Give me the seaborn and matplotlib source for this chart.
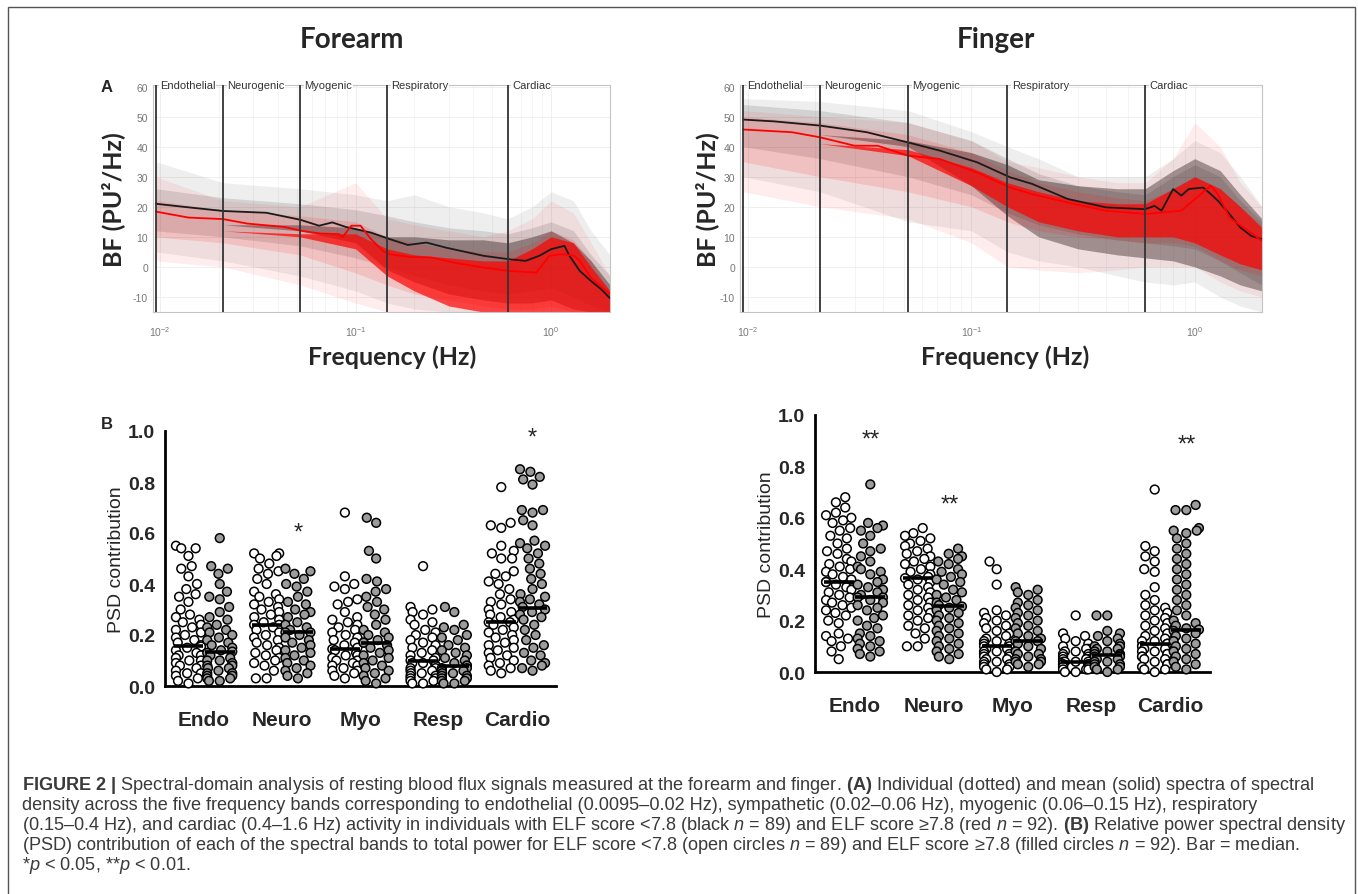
import warnings
import numpy as np
import pandas as pd
import matplotlib
matplotlib.use("Agg")
import matplotlib.pyplot as plt
import seaborn as sns
from matplotlib.patches import Rectangle

warnings.filterwarnings("ignore")

W, H = 1358, 895

# ---------------- Panel A: spectra ----------------
band_edges = [0.0095, 0.021, 0.052, 0.145, 0.6]
band_names = ["Endothelial", "Neurogenic", "Myogenic", "Respiratory", "Cardiac"]

# mean spectra
fa_blk_f = [0.0095, 0.014, 0.021, 0.035, 0.052, 0.065, 0.076, 0.089, 0.12, 0.15, 0.185, 0.23,
            0.29, 0.45, 0.6, 0.74, 0.87, 1.0, 1.17, 1.24, 1.4, 1.6, 1.8, 2.0]
fa_blk_y = [21.0, 19.8, 18.6, 18.0, 15.7, 13.7, 14.8, 13.3, 11.4, 9.2, 7.3, 8.1,
            6.4, 3.7, 2.6, 2.0, 3.7, 5.9, 7.0, 3.7, -1.3, -4.7, -7.4, -10.4]
fa_red_f = [0.0095, 0.014, 0.021, 0.028, 0.043, 0.053, 0.066, 0.082, 0.086, 0.095, 0.106, 0.12,
            0.138, 0.15, 0.19, 0.245, 0.32, 0.45, 0.6, 0.84, 0.98, 1.13, 1.31, 1.4, 1.6, 2.0]
fa_red_y = [18.4, 16.4, 15.9, 14.4, 13.3, 12.0, 11.1, 10.9, 10.0, 13.7, 13.7, 9.2,
            5.3, 4.2, 3.3, 3.1, 1.4, -0.2, -1.3, -1.9, 3.7, 4.2, 3.7, 2.0, -3.6, -9.1]

fi_blk_f = [0.0095, 0.0131, 0.021, 0.034, 0.052, 0.072, 0.106, 0.149, 0.187, 0.27, 0.4, 0.6,
            0.66, 0.71, 0.8, 0.87, 0.94, 1.09, 1.18, 1.27, 1.43, 1.6, 1.79, 2.0]
fi_blk_y = [49.0, 48.4, 47.0, 44.8, 41.4, 38.7, 34.8, 29.8, 27.6, 22.6, 19.8, 19.2,
            20.3, 18.7, 25.9, 23.7, 25.9, 26.4, 24.2, 22.0, 17.6, 13.1, 10.3, 9.2]
fi_red_f = [0.0095, 0.0157, 0.021, 0.03, 0.038, 0.052, 0.072, 0.106, 0.149, 0.187, 0.27, 0.4,
            0.6, 0.87, 1.18, 1.27, 1.43, 2.0]
fi_red_y = [45.7, 44.8, 43.1, 40.3, 40.3, 37.0, 35.9, 31.4, 26.4, 24.2, 21.4, 18.7,
            17.6, 18.7, 27.0, 24.2, 16.4, 8.7]

# spread of the individual spectra: outer, inner and dense envelopes
env_f = [0.0095, 0.021, 0.052, 0.1, 0.145, 0.2, 0.3, 0.45, 0.6, 0.8, 1.0, 1.3, 1.6, 2.0]
fa_blk_out_lo = [5, 2, -3, -8, -12, -14, -15, -15, -15, -15, -15, -15, -15, -15]
fa_blk_out_hi = [35, 28, 26, 24, 22, 24, 20, 18, 16, 20, 25, 22, 12, 4]
fa_blk_in_lo = [12, 10, 7, 3, 0, -3, -6, -8, -9, -8, -7, -10, -13, -15]
fa_blk_in_hi = [26, 23, 21, 19, 17, 15, 13, 12, 11, 13, 15, 12, 4, -3]
fa_blk_dn_lo = [15, 14, 12, 8, -1, -5, -9, -11, -12, -12, -11, -14, -15, -15]
fa_blk_dn_hi = [15, 14, 14, 13, 10, 10, 9, 9, 8, 10, 12, 8, 2, -6]
fa_red_out_lo = [2, 0, -6, -12, -15, -15, -15, -15, -15, -15, -15, -15, -15, -15]
fa_red_out_hi = [30, 22, 20, 28, 16, 14, 12, 10, 12, 16, 22, 18, 8, -3]
fa_red_in_lo = [10, 8, 4, -2, -6, -9, -11, -13, -14, -14, -13, -15, -15, -15]
fa_red_in_hi = [22, 19, 17, 15, 10, 8, 6, 5, 5, 8, 12, 9, 2, -8]
fa_red_dn_lo = [13, 12, 10, 6, -3, -8, -13, -15, -15, -15, -15, -15, -15, -15]
fa_red_dn_hi = [13, 12, 11, 11, 6, 4, 3, 2, 2, 6, 10, 8, 0, -8]

fi_blk_out_lo = [30, 25, 15, 12, 5, 2, 0, -3, -5, -6, -5, -10, -13, -15]
fi_blk_out_hi = [56, 55, 52, 45, 40, 36, 30, 30, 30, 36, 42, 38, 30, 20]
fi_blk_in_lo = [40, 36, 30, 24, 18, 14, 11, 9, 8, 7, 6, 2, -2, -6]
fi_blk_in_hi = [54, 52, 48, 42, 36, 31, 27, 25, 24, 30, 34, 30, 22, 15]
fi_blk_dn_lo = [47, 44, 40, 27, 17, 10, 6, 4, 3, 2, 0, -3, -6, -8]
fi_blk_dn_hi = [47, 44, 42, 38, 34, 29, 27, 26, 26, 32, 36, 32, 24, 16]
fi_red_out_lo = [25, 20, 16, 8, 0, -1, -2, -1, 0, 0, 0, -5, -8, -10]
fi_red_out_hi = [52, 50, 48, 42, 35, 33, 30, 28, 28, 36, 48, 40, 28, 20]
fi_red_in_lo = [35, 30, 25, 20, 15, 12, 10, 9, 8, 8, 7, 2, -1, -3]
fi_red_in_hi = [50, 48, 44, 38, 32, 28, 25, 23, 22, 26, 30, 26, 20, 14]
fi_red_dn_lo = [44, 41, 37, 27, 20, 15, 12, 10, 10, 10, 8, 4, 1, -1]
fi_red_dn_hi = [44, 41, 39, 33, 28, 25, 22, 21, 21, 26, 30, 26, 20, 13]

# ---------------- Panel B: PSD contribution ----------------
bands = ["Endo", "Neuro", "Myo", "Resp", "Cardio"]

fa_open = [
    [0.55, 0.54, 0.54, 0.51, 0.47, 0.46, 0.43, 0.40, 0.38, 0.36, 0.35, 0.33, 0.30, 0.28, 0.27, 0.26,
     0.25, 0.24, 0.23, 0.22, 0.21, 0.20, 0.19, 0.18, 0.17, 0.16, 0.155, 0.15, 0.14, 0.13, 0.12, 0.12,
     0.11, 0.10, 0.10, 0.09, 0.08, 0.08, 0.07, 0.06, 0.05, 0.05, 0.04, 0.03, 0.02, 0.01],
    [0.52, 0.52, 0.51, 0.50, 0.48, 0.46, 0.45, 0.44, 0.42, 0.40, 0.37, 0.36, 0.35, 0.34, 0.33, 0.32,
     0.31, 0.30, 0.29, 0.28, 0.27, 0.26, 0.25, 0.24, 0.24, 0.23, 0.22, 0.21, 0.20, 0.19, 0.18, 0.17,
     0.16, 0.15, 0.14, 0.13, 0.12, 0.11, 0.10, 0.09, 0.08, 0.06, 0.03, 0.03],
    [0.68, 0.43, 0.40, 0.39, 0.38, 0.34, 0.33, 0.32, 0.29, 0.27, 0.26, 0.25, 0.24, 0.23, 0.22, 0.21,
     0.20, 0.19, 0.18, 0.17, 0.16, 0.15, 0.145, 0.14, 0.13, 0.12, 0.12, 0.11, 0.10, 0.10, 0.09, 0.08,
     0.08, 0.07, 0.06, 0.06, 0.05, 0.04, 0.03],
    [0.47, 0.31, 0.30, 0.29, 0.28, 0.26, 0.25, 0.24, 0.22, 0.21, 0.20, 0.19, 0.18, 0.17, 0.16, 0.15,
     0.14, 0.13, 0.12, 0.11, 0.10, 0.10, 0.09, 0.09, 0.08, 0.08, 0.07, 0.07, 0.06, 0.06, 0.05, 0.05,
     0.04, 0.04, 0.03, 0.03, 0.02, 0.02, 0.01, 0.01],
    [0.78, 0.64, 0.63, 0.62, 0.55, 0.53, 0.52, 0.50, 0.50, 0.45, 0.44, 0.43, 0.41, 0.40, 0.38, 0.36,
     0.34, 0.33, 0.32, 0.30, 0.29, 0.28, 0.27, 0.26, 0.25, 0.25, 0.24, 0.23, 0.22, 0.21, 0.20, 0.19,
     0.18, 0.17, 0.16, 0.15, 0.14, 0.13, 0.12, 0.11, 0.10, 0.09, 0.08, 0.07, 0.06, 0.05],
]
fa_fill = [
    [0.58, 0.47, 0.46, 0.44, 0.40, 0.37, 0.35, 0.34, 0.31, 0.29, 0.27, 0.26, 0.24, 0.23, 0.22, 0.21,
     0.20, 0.19, 0.18, 0.17, 0.16, 0.15, 0.14, 0.135, 0.13, 0.12, 0.11, 0.10, 0.10, 0.09, 0.08, 0.08,
     0.07, 0.07, 0.06, 0.05, 0.05, 0.04, 0.04, 0.03, 0.03, 0.02, 0.02],
    [0.46, 0.45, 0.44, 0.42, 0.40, 0.39, 0.37, 0.35, 0.33, 0.32, 0.30, 0.29, 0.28, 0.27, 0.25, 0.24,
     0.23, 0.22, 0.21, 0.21, 0.20, 0.19, 0.18, 0.17, 0.16, 0.15, 0.14, 0.13, 0.12, 0.11, 0.10, 0.09,
     0.08, 0.07, 0.06, 0.05, 0.04, 0.03],
    [0.66, 0.64, 0.53, 0.50, 0.42, 0.41, 0.38, 0.37, 0.35, 0.33, 0.31, 0.30, 0.28, 0.26, 0.24, 0.22,
     0.21, 0.20, 0.19, 0.18, 0.17, 0.17, 0.16, 0.15, 0.14, 0.13, 0.12, 0.11, 0.10, 0.09, 0.08, 0.07,
     0.06, 0.05, 0.04, 0.03, 0.02, 0.01],
    [0.31, 0.29, 0.24, 0.23, 0.22, 0.20, 0.19, 0.18, 0.16, 0.15, 0.14, 0.13, 0.12, 0.11, 0.10, 0.09,
     0.08, 0.08, 0.07, 0.07, 0.06, 0.06, 0.05, 0.05, 0.04, 0.04, 0.03, 0.03, 0.02, 0.02, 0.01, 0.01],
    [0.85, 0.84, 0.82, 0.81, 0.79, 0.69, 0.69, 0.68, 0.65, 0.63, 0.57, 0.56, 0.55, 0.54, 0.52, 0.50,
     0.48, 0.46, 0.44, 0.42, 0.40, 0.38, 0.36, 0.35, 0.34, 0.33, 0.32, 0.31, 0.30, 0.29, 0.28, 0.27,
     0.26, 0.24, 0.22, 0.20, 0.18, 0.16, 0.15, 0.13, 0.12, 0.10, 0.09, 0.08, 0.07, 0.06],
]
fi_open = [
    [0.68, 0.66, 0.64, 0.62, 0.61, 0.60, 0.59, 0.58, 0.56, 0.55, 0.53, 0.52, 0.50, 0.48, 0.47, 0.46,
     0.44, 0.43, 0.42, 0.41, 0.40, 0.39, 0.38, 0.37, 0.36, 0.35, 0.35, 0.34, 0.33, 0.32, 0.31, 0.30,
     0.29, 0.28, 0.27, 0.26, 0.25, 0.24, 0.23, 0.22, 0.20, 0.19, 0.15, 0.14, 0.13, 0.12, 0.10, 0.08, 0.05],
    [0.56, 0.54, 0.53, 0.52, 0.51, 0.50, 0.49, 0.48, 0.47, 0.46, 0.45, 0.44, 0.43, 0.42, 0.41, 0.40,
     0.39, 0.38, 0.37, 0.365, 0.36, 0.35, 0.34, 0.33, 0.32, 0.31, 0.30, 0.29, 0.28, 0.27, 0.26, 0.25,
     0.24, 0.23, 0.22, 0.21, 0.20, 0.18, 0.17, 0.15, 0.13, 0.10, 0.10],
    [0.43, 0.40, 0.34, 0.24, 0.23, 0.22, 0.21, 0.20, 0.19, 0.18, 0.17, 0.16, 0.15, 0.14, 0.13, 0.12,
     0.12, 0.11, 0.11, 0.10, 0.10, 0.09, 0.09, 0.08, 0.08, 0.07, 0.07, 0.06, 0.06, 0.05, 0.05, 0.04,
     0.04, 0.03, 0.03, 0.02, 0.02, 0.01, 0.01, 0.0],
    [0.22, 0.15, 0.14, 0.13, 0.12, 0.11, 0.10, 0.09, 0.09, 0.08, 0.08, 0.07, 0.07, 0.06, 0.06, 0.05,
     0.05, 0.05, 0.04, 0.04, 0.04, 0.04, 0.03, 0.03, 0.03, 0.03, 0.02, 0.02, 0.02, 0.02, 0.01, 0.01,
     0.01, 0.0, 0.0],
    [0.71, 0.49, 0.47, 0.45, 0.43, 0.40, 0.39, 0.33, 0.30, 0.28, 0.26, 0.25, 0.24, 0.23, 0.22, 0.21,
     0.20, 0.19, 0.18, 0.17, 0.16, 0.15, 0.14, 0.13, 0.12, 0.12, 0.11, 0.11, 0.10, 0.10, 0.09, 0.09,
     0.08, 0.08, 0.07, 0.07, 0.06, 0.06, 0.05, 0.05, 0.04, 0.03, 0.03, 0.02, 0.01, 0.01, 0.0],
]
fi_fill = [
    [0.73, 0.58, 0.57, 0.56, 0.55, 0.53, 0.50, 0.48, 0.47, 0.45, 0.43, 0.41, 0.40, 0.39, 0.38, 0.36,
     0.35, 0.34, 0.33, 0.32, 0.31, 0.30, 0.29, 0.29, 0.28, 0.27, 0.26, 0.25, 0.24, 0.22, 0.21, 0.20,
     0.18, 0.17, 0.15, 0.14, 0.13, 0.12, 0.11, 0.10, 0.09, 0.08, 0.07, 0.06],
    [0.48, 0.46, 0.45, 0.44, 0.43, 0.42, 0.40, 0.39, 0.38, 0.37, 0.36, 0.35, 0.34, 0.32, 0.31, 0.30,
     0.29, 0.28, 0.27, 0.26, 0.255, 0.25, 0.24, 0.23, 0.22, 0.21, 0.20, 0.19, 0.18, 0.17, 0.16, 0.15,
     0.14, 0.13, 0.12, 0.11, 0.10, 0.09, 0.08, 0.07, 0.06, 0.05],
    [0.33, 0.32, 0.31, 0.30, 0.28, 0.27, 0.26, 0.25, 0.24, 0.23, 0.22, 0.21, 0.20, 0.19, 0.18, 0.17,
     0.16, 0.15, 0.14, 0.13, 0.12, 0.12, 0.11, 0.10, 0.09, 0.08, 0.07, 0.07, 0.06, 0.05, 0.05, 0.04,
     0.04, 0.03, 0.03, 0.02],
    [0.22, 0.22, 0.16, 0.15, 0.14, 0.13, 0.12, 0.11, 0.10, 0.10, 0.09, 0.09, 0.08, 0.08, 0.07, 0.07,
     0.065, 0.06, 0.06, 0.05, 0.05, 0.04, 0.04, 0.03, 0.03, 0.02, 0.02, 0.01, 0.01, 0.0],
    [0.65, 0.63, 0.63, 0.56, 0.55, 0.55, 0.54, 0.52, 0.50, 0.48, 0.46, 0.44, 0.42, 0.40, 0.38, 0.36,
     0.34, 0.32, 0.30, 0.28, 0.26, 0.24, 0.22, 0.20, 0.19, 0.18, 0.17, 0.165, 0.16, 0.15, 0.14, 0.13,
     0.12, 0.11, 0.10, 0.09, 0.08, 0.07, 0.06, 0.05, 0.04, 0.03, 0.02, 0.01],
]

# medians (bars) and significance marks
fa_med_open = [0.155, 0.24, 0.145, 0.10, 0.25]
fa_med_fill = [0.135, 0.21, 0.17, 0.08, 0.305]
fi_med_open = [0.35, 0.365, 0.10, 0.04, 0.11]
fi_med_fill = [0.29, 0.255, 0.12, 0.065, 0.165]
fa_stars = ["", "*", "", "", "*"]
fa_star_y = [0, 0.60, 0, 0, 0.975]
fi_stars = ["**", "**", "", "", "**"]
fi_star_y = [0.905, 0.65, 0, 0, 0.885]

caption_lines = [
    r"$\mathbf{FIGURE\ 2\ |}$ Spectral-domain analysis of resting blood flux signals measured at the forearm and finger. "
    r"$\mathbf{(A)}$ Individual (dotted) and mean (solid) spectra of spectral",
    "density across the five frequency bands corresponding to endothelial (0.0095–0.02 Hz), sympathetic "
    "(0.02–0.06 Hz), myogenic (0.06–0.15 Hz), respiratory",
    r"(0.15–0.4 Hz), and cardiac (0.4–1.6 Hz) activity in individuals with ELF score <7.8 (black $\mathit{n}$ = 89) "
    r"and ELF score ≥7.8 (red $\mathit{n}$ = 92). $\mathbf{(B)}$ Relative power spectral density",
    r"(PSD) contribution of each of the spectral bands to total power for ELF score <7.8 (open circles $\mathit{n}$ = 89) "
    r"and ELF score ≥7.8 (filled circles $\mathit{n}$ = 92). Bar = median.",
    r"*$\mathit{p}$ < 0.05, **$\mathit{p}$ < 0.01.",
]

# ---------------- drawing ----------------
sns.set_style("white")
plt.rcParams["font.family"] = ["Liberation Sans", "DejaVu Sans"]
plt.rcParams["mathtext.fontset"] = "custom"
plt.rcParams["mathtext.rm"] = "Liberation Sans"
plt.rcParams["mathtext.it"] = "Liberation Sans:italic"
plt.rcParams["mathtext.bf"] = "Liberation Sans:bold"

fig = plt.figure(figsize=(W / 100, H / 100), dpi=100)


def px_axes(left, top, right, bottom):
    return fig.add_axes([left / W, 1 - bottom / H, (right - left) / W, (bottom - top) / H])


def px_text(x, y, s, **kw):
    fig.text(x / W, 1 - y / H, s, **kw)


BLACK = "#1a1a1a"
RED = "#ff0000"


def draw_spectra(ax, blk, red):
    for col, env, a_dn in [(BLACK, blk, 0.40), (RED, red, 0.70)]:
        out_lo, out_hi, in_lo, in_hi, dn_lo, dn_hi = env[2:]
        ax.fill_between(env_f, out_lo, out_hi, color=col, alpha=0.07, lw=0)
        ax.fill_between(env_f, in_lo, in_hi, color=col, alpha=0.13, lw=0)
        ax.fill_between(env_f, dn_lo, dn_hi, color=col, alpha=a_dn, lw=0)
    ax.plot(blk[0], blk[1], color=BLACK, lw=1.3, zorder=5)
    ax.plot(red[0], red[1], color=RED, lw=1.3, zorder=5)
    ax.set_xscale("log")
    ax.set_xlim(0.0092, 2.0)
    ax.set_ylim(-15, 60.5)
    for e in band_edges:
        ax.axvline(e, color="#333333", lw=1.3, zorder=6)
    for e, name in zip(band_edges, band_names):
        ax.annotate(name, (e, 60.5), xytext=(3, 0), textcoords="offset points",
                    fontsize=8, color="#333333", va="center", ha="left", zorder=7,
                    bbox=dict(fc="white", ec="none", pad=0.3))
    ax.set_yticks(range(-10, 61, 10))
    ax.set_yticklabels([str(v) for v in range(-10, 61, 10)])
    ax.set_xticks([0.01, 0.1, 1])
    ax.set_xticklabels([r"$10^{-2}$", r"$10^{-1}$", r"$10^{0}$"])
    ax.tick_params(axis="both", which="both", direction="in", colors="#777777",
                   labelsize=7.5, length=3, width=0.6)
    ax.tick_params(axis="x", pad=9)
    ax.grid(True, which="major", color="#ececec", lw=0.6)
    ax.grid(True, which="minor", axis="x", color="#f0f0f0", lw=0.5)
    for s in ax.spines.values():
        s.set_color("#c4c4c4")
        s.set_linewidth(0.8)


def env_pack(f, y, out_lo, out_hi, in_lo, in_hi, dn_lo, dn_hi):
    return [f, y, out_lo, out_hi, in_lo, in_hi, dn_lo, dn_hi]


axA1 = px_axes(153, 86, 610, 313)
draw_spectra(axA1,
             env_pack(fa_blk_f, fa_blk_y, fa_blk_out_lo, fa_blk_out_hi, fa_blk_in_lo, fa_blk_in_hi,
                      fa_blk_dn_lo, fa_blk_dn_hi),
             env_pack(fa_red_f, fa_red_y, fa_red_out_lo, fa_red_out_hi, fa_red_in_lo, fa_red_in_hi,
                      fa_red_dn_lo, fa_red_dn_hi))
axA2 = px_axes(740, 86, 1262, 313)
draw_spectra(axA2,
             env_pack(fi_blk_f, fi_blk_y, fi_blk_out_lo, fi_blk_out_hi, fi_blk_in_lo, fi_blk_in_hi,
                      fi_blk_dn_lo, fi_blk_dn_hi),
             env_pack(fi_red_f, fi_red_y, fi_red_out_lo, fi_red_out_hi, fi_red_in_lo, fi_red_in_hi,
                      fi_red_dn_lo, fi_red_dn_hi))

lab_font = ["Lato", "DejaVu Sans"]
px_text(352, 40, "Forearm", fontsize=20, fontweight="bold", family=lab_font, ha="center", va="center")
px_text(996, 40, "Finger", fontsize=20, fontweight="bold", family=lab_font, ha="center", va="center")
for x in [113, 707]:
    px_text(x, 200, "BF (PU²/Hz)", fontsize=18, fontweight="bold", family=lab_font,
            rotation=90, ha="center", va="center")
for x in [392, 1005]:
    px_text(x, 357, "Frequency (Hz)", fontsize=18, fontweight="bold", family=lab_font,
            ha="center", va="center")
px_text(107, 88, "A", fontsize=12, fontweight="bold", ha="center", va="center")
px_text(107, 425, "B", fontsize=12, fontweight="bold", ha="center", va="center")


def make_df(open_lists, fill_lists):
    rows = []
    for i, (o, f) in enumerate(zip(open_lists, fill_lists)):
        rows += [(i - 0.2, "open", v) for v in o]
        rows += [(i + 0.2, "filled", v) for v in f]
    return pd.DataFrame(rows, columns=["xpos", "group", "psd"])


def draw_psd(ax, df, med_open, med_fill, stars, star_y):
    sns.swarmplot(data=df, x="xpos", y="psd", hue="group", native_scale=True, orient="x",
                  hue_order=["open", "filled"],
                  palette={"open": "white", "filled": "#9c9c9c"},
                  size=6.3, edgecolor="black", linewidth=1.1, legend=False, ax=ax)
    for c in ax.collections:
        c.set_clip_on(False)
    for i in range(len(bands)):
        ax.hlines(med_open[i], i - 0.2 - 0.19, i - 0.2 + 0.19, color="black", lw=2.6, zorder=10)
        ax.hlines(med_fill[i], i + 0.2 - 0.19, i + 0.2 + 0.19, color="black", lw=2.6, zorder=10)
        if stars[i]:
            ax.text(i + 0.2, star_y[i], stars[i], ha="center", va="center", fontsize=17)
    ax.set_xlim(-0.5, 4.5)
    ax.set_ylim(0, 1.0)
    ax.set_xticks(range(len(bands)))
    ax.set_xticklabels(bands, fontweight="bold")
    ax.set_yticks(np.arange(0, 1.01, 0.2))
    ax.set_yticklabels([f"{v:.1f}" for v in np.arange(0, 1.01, 0.2)], fontweight="bold")
    ax.set_xlabel("")
    ax.set_ylabel("PSD contribution", fontsize=14, labelpad=2)
    ax.tick_params(axis="y", direction="out", length=5, width=2, labelsize=14, pad=2)
    ax.tick_params(axis="x", length=0, labelsize=15, pad=17)
    sns.despine(ax=ax)
    for s in ["left", "bottom"]:
        ax.spines[s].set_linewidth(2)
        ax.spines[s].set_color("black")
    ax.patch.set_alpha(0)


axB1 = px_axes(165, 432, 556, 687)
draw_psd(axB1, make_df(fa_open, fa_fill), fa_med_open, fa_med_fill, fa_stars, fa_star_y)
axB2 = px_axes(815, 416, 1210, 673)
draw_psd(axB2, make_df(fi_open, fi_fill), fi_med_open, fi_med_fill, fi_stars, fi_star_y)

for k, line in enumerate(caption_lines):
    px_text(22, 786 + 20 * k, line, fontsize=13.1, color="#3a3a3a", ha="left", va="center")

fig.patches.append(Rectangle((8 / W, -0.02), 1347 / W, 1 - 8 / H + 0.02, transform=fig.transFigure,
                             fill=False, ec="#555555", lw=1))

fig.savefig("out.png", dpi=100)
